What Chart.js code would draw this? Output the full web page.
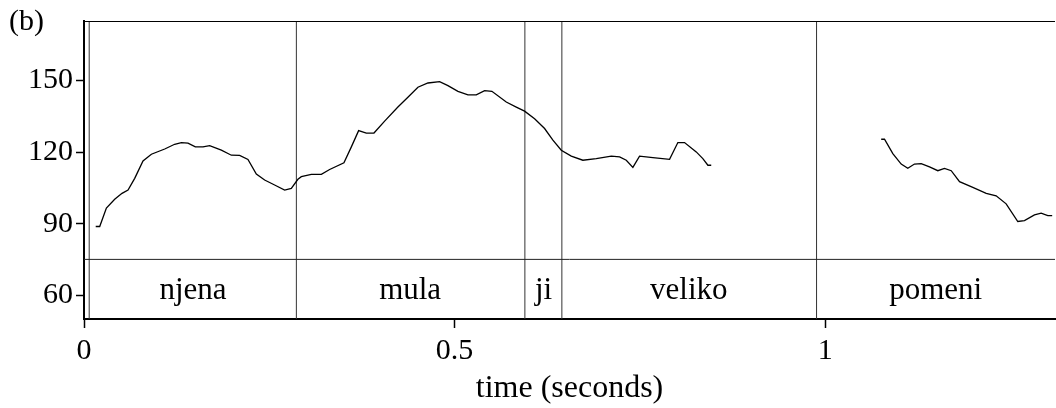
<!DOCTYPE html>
<html>
<head>
<meta charset="utf-8">
<script src="https://cdn.jsdelivr.net/npm/chart.js@4"></script>
<style>
  body { margin: 0; background: #fff; }
  #wrap { width: 1056px; height: 408px; }
</style>
</head>
<body>
<div id="wrap"><canvas id="pitch" width="1056" height="408"></canvas></div>
<script>
// pitch track, first stretch (njena mula ji veliko)
const times1 = [0.0158, 0.0212, 0.0302, 0.0414, 0.0513, 0.0594, 0.0684, 0.0796, 0.0909, 0.1089,
  0.1223, 0.1314, 0.1403, 0.1502, 0.1605, 0.1695, 0.1853, 0.1988, 0.21, 0.2212, 0.2325, 0.2437,
  0.2572, 0.2707, 0.2797, 0.2886, 0.2932, 0.3067, 0.3202, 0.3314, 0.3507, 0.3607, 0.3705, 0.3809,
  0.3912, 0.4056, 0.4235, 0.437, 0.4505, 0.464, 0.4798, 0.491, 0.5045, 0.518, 0.5292, 0.5405,
  0.5503, 0.5697, 0.5832, 0.5944, 0.6079, 0.6214, 0.6326, 0.6439, 0.6574, 0.673, 0.6911, 0.7114,
  0.7226, 0.7316, 0.7405, 0.7495, 0.7675, 0.79, 0.8012, 0.8102, 0.826, 0.8349, 0.8417, 0.8462];
const pitch1 = [88.8, 88.8, 96.5, 100.2, 102.7, 104.1, 109, 116.3, 119.1, 121.3,
  123.3, 124, 123.8, 122.2, 122.2, 122.7, 120.8, 118.7, 118.6, 116.9, 110.8, 108.3,
  106.2, 104.1, 104.8, 108.6, 109.7, 110.7, 110.7, 112.7, 115.5, 122.2, 129, 128,
  128, 133, 138.9, 143, 147.2, 149, 149.6, 147.9, 145.5, 144, 144, 145.8,
  145.5, 141, 138.9, 137.2, 134, 129.9, 125, 120.8, 118.3, 116.6, 117.3, 118.3,
  118, 116.6, 113.6, 118.3, 117.7, 117, 124, 124, 120.1, 117.3, 114.5, 114.5];

// second stretch (pomeni)
const times2 = [1.0755, 1.08, 1.0912, 1.1025, 1.1114, 1.1204, 1.1295, 1.1407, 1.1519, 1.1609,
  1.17, 1.1812, 1.1991, 1.2172, 1.2306, 1.2441, 1.2598, 1.2688, 1.2823, 1.2913, 1.3003, 1.3062];
const pitch2 = [125.4, 125.4, 119.4, 115, 113.2, 115, 115.2, 113.8, 112.2, 113.2,
  112.2, 107.6, 105.2, 102.7, 101.7, 98.3, 90.9, 91.3, 93.7, 94.4, 93.4, 93.4];

// word tier
const boundaryTimes = [0.007, 0.2865, 0.5948, 0.6447, 0.9883];
const words = ["njena", "mula", "ji", "veliko", "pomeni"];
const wordTimes = [0.147, 0.44, 0.62, 0.816, 1.149];
const tierLineValue = 75;
const wordLabelValue = 61.6;

const xTicks = [0, 0.5, 1];
const yTicks = [60, 90, 120, 150];
const xMin = 0, xMax = 1.31;
const yMin = 50, yMax = 175;

const serif = "'Liberation Serif', 'Times New Roman', serif";

function toPoints(xs, ys) {
  return xs.map((x, i) => ({ x: x, y: ys[i] }));
}

function plainLine(data, color, width) {
  return {
    data: data,
    showLine: true,
    borderColor: color,
    borderWidth: width,
    pointRadius: 0,
    pointHoverRadius: 0,
    tension: 0,
    fill: false,
  };
}

const datasets = [
  plainLine(toPoints(times1, pitch1), "#000", 1.3),
  plainLine(toPoints(times2, pitch2), "#000", 1.3),
  plainLine([{ x: xMin, y: tierLineValue }, { x: xMax, y: tierLineValue }], "#222", 1),
  plainLine([{ x: xMin, y: yMax }, { x: xMax, y: yMax }], "#000", 2),
];
boundaryTimes.forEach((t) => {
  datasets.push(plainLine([{ x: t, y: yMin }, { x: t, y: yMax }], "#333", 1));
});

// words and panel letter
const textPlugin = {
  id: "tierText",
  afterDatasetsDraw(chart) {
    const ctx = chart.ctx;
    const xs = chart.scales.x;
    const ys = chart.scales.y;
    ctx.save();
    ctx.fillStyle = "#000";
    ctx.font = "31px " + serif;
    ctx.textAlign = "center";
    ctx.textBaseline = "middle";
    words.forEach((w, i) => {
      ctx.fillText(w, xs.getPixelForValue(wordTimes[i]), ys.getPixelForValue(wordLabelValue));
    });
    ctx.font = "30px " + serif;
    ctx.textAlign = "left";
    ctx.fillText("(b)", 9, 22);
    ctx.restore();
  },
};

new Chart(document.getElementById("pitch"), {
  type: "scatter",
  data: { datasets: datasets },
  options: {
    responsive: false,
    animation: false,
    events: [],
    layout: { padding: { top: 20, right: 1, left: 0, bottom: 0 } },
    plugins: { legend: { display: false }, tooltip: { enabled: false } },
    scales: {
      x: {
        type: "linear",
        min: xMin,
        max: xMax,
        afterBuildTicks: (axis) => { axis.ticks = xTicks.map((v) => ({ value: v })); },
        afterFit: (axis) => { axis.height = 89; },
        grid: { drawOnChartArea: false, drawTicks: true, tickLength: 9, tickColor: "#000", tickWidth: 1.5 },
        border: { display: true, color: "#000", width: 2 },
        ticks: {
          color: "#000",
          padding: 5,
          maxRotation: 0,
          font: { family: serif, size: 30 },
          callback: (v) => String(v),
        },
        title: {
          display: true,
          text: "time (seconds)",
          color: "#000",
          font: { family: serif, size: 32 },
          padding: { top: 0, bottom: 0 },
        },
      },
      y: {
        type: "linear",
        min: yMin,
        max: yMax,
        afterBuildTicks: (axis) => { axis.ticks = yTicks.map((v) => ({ value: v })); },
        afterFit: (axis) => { axis.width = 84; },
        grid: { drawOnChartArea: false, drawTicks: true, tickLength: 8, tickColor: "#000", tickWidth: 1.5 },
        border: { display: true, color: "#000", width: 2 },
        ticks: {
          color: "#000",
          padding: 3,
          font: { family: serif, size: 30 },
        },
      },
    },
  },
  plugins: [textPlugin],
});
</script>
</body>
</html>
